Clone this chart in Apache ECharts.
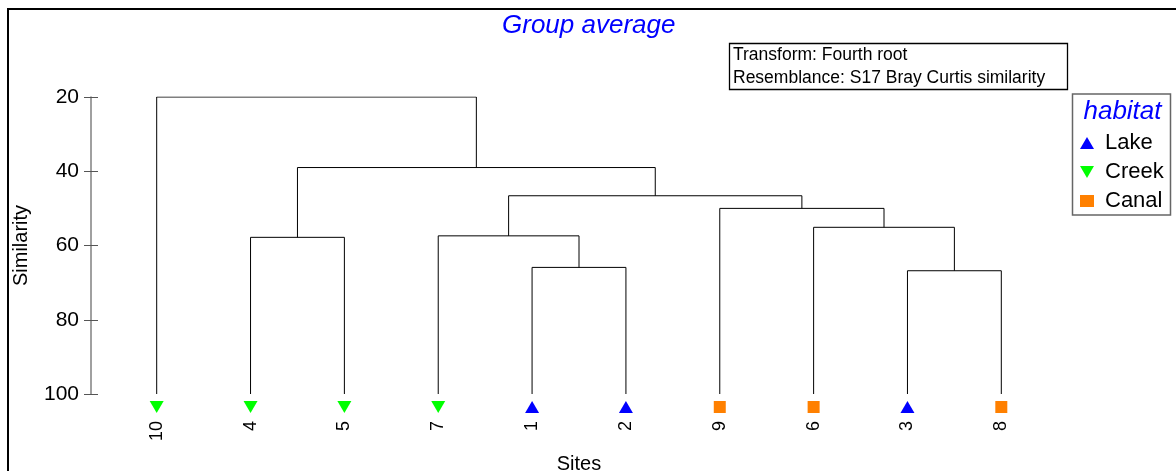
<!DOCTYPE html>
<html>
<head>
<meta charset="utf-8">
<script src="https://cdn.jsdelivr.net/npm/echarts@6/dist/echarts.min.js"></script>
<style>
html,body{margin:0;padding:0;background:#fff;}
#chart{width:1176px;height:471px;}
</style>
</head>
<body>
<div id="chart"></div>
<script>
// Sites in dendrogram leaf order (left to right)
const sites = ['10', '4', '5', '7', '1', '2', '9', '6', '3', '8'];
// Habitat of each site in that order
const habitats = ['Creek', 'Creek', 'Creek', 'Creek', 'Lake', 'Lake', 'Canal', 'Canal', 'Lake', 'Canal'];
// Merges: [left node, right node, similarity]; leaves are 0..9, merge k creates node 10+k
const merges = [
  [4, 5, 65.9],
  [3, 10, 57.4],
  [8, 9, 66.8],
  [7, 12, 55.1],
  [6, 13, 50.0],
  [11, 14, 46.6],
  [1, 2, 57.8],
  [16, 15, 39.0],
  [0, 17, 20.0]
];
const yTicks = [20, 40, 60, 80, 100];
const habitatNames = ['Lake', 'Creek', 'Canal'];
const habitatColors = { Lake: '#0000ff', Creek: '#00ff00', Canal: '#ff8000' };
const downTri = 'path://M0,0L10,0L5,8.6Z';
const habitatSymbols = { Lake: 'triangle', Creek: downTri, Canal: 'rect' };
const habitatSizes = { Lake: [14, 12], Creek: [14, 12], Canal: [12, 12] };

// Build dendrogram polylines from merges
const nodeX = sites.map((_, i) => i);
const nodeY = sites.map(() => 100);
const polylines = [];
merges.forEach(([a, b, h]) => {
  polylines.push({ coords: [[nodeX[a], nodeY[a]], [nodeX[a], h], [nodeX[b], h], [nodeX[b], nodeY[b]]] });
  nodeX.push((nodeX[a] + nodeX[b]) / 2);
  nodeY.push(h);
});

const scatterSeries = habitatNames.map(name => ({
  name: name,
  type: 'scatter',
  symbol: habitatSymbols[name],
  symbolSize: habitatSizes[name],
  symbolOffset: [0, 13],
  itemStyle: { color: habitatColors[name], opacity: 1 },
  clip: false,
  silent: true,
  data: sites.map((s, i) => habitats[i] === name ? [i, 100] : null).filter(d => d)
}));

const chart = echarts.init(document.getElementById('chart'), null, { renderer: 'canvas' });
const font = 'Liberation Sans, Arial, Helvetica, sans-serif';
chart.setOption({
  animation: false,
  backgroundColor: '#ffffff',
  textStyle: { fontFamily: font },
  title: {
    text: 'Group average',
    left: 502, top: 13,
    padding: 0,
    textStyle: { fontSize: 26, fontStyle: 'italic', fontWeight: 'normal', color: '#0000ff', fontFamily: font }
  },
  legend: {
    data: habitatNames.map(n => ({ name: n, icon: habitatSymbols[n] })),
    orient: 'vertical',
    left: 1080, top: 132,
    padding: 0,
    itemWidth: 14, itemHeight: 12,
    itemGap: 7,
    selectedMode: false,
    textStyle: { fontSize: 22, color: '#000', fontFamily: font, padding: [0, 0, 0, 6], lineHeight: 22 }
  },
  grid: { left: 91, top: 97, height: 297, width: 976, outerBoundsMode: 'none', containLabel: false },
  xAxis: {
    type: 'value', min: -0.7, max: 9.7,
    name: 'Sites', nameLocation: 'middle', nameGap: 60,
    nameTextStyle: { fontSize: 20, color: '#000', fontFamily: font },
    axisLine: { show: false, onZero: false }, axisTick: { show: false }, splitLine: { show: false },
    axisLabel: {
      customValues: sites.map((_, i) => i),
      formatter: v => sites[Math.round(v)],
      rotate: 90, margin: 27, fontSize: 18, color: '#000', fontFamily: font
    }
  },
  yAxis: [{
    type: 'value', inverse: true, min: 20, max: 100, interval: 20,
    name: 'Similarity', nameLocation: 'middle', nameGap: 60,
    nameTextStyle: { fontSize: 20, color: '#000', fontFamily: font },
    axisLine: { show: true, onZero: false, lineStyle: { color: '#808080', width: 1.5 } },
    axisTick: { show: true, length: 7, lineStyle: { color: '#555', width: 1 } },
    axisLabel: { fontSize: 21, color: '#000', margin: 12, fontFamily: font, formatter: v => yTicks.includes(v) ? String(v) : '' },
    splitLine: { show: false }
  }, {
    type: 'value', inverse: true, min: 20, max: 100, interval: 20, position: 'left',
    axisLine: { show: false, onZero: false },
    axisTick: { show: true, inside: true, length: 7, lineStyle: { color: '#555', width: 1 } },
    axisLabel: { show: false },
    splitLine: { show: false }
  }],
  series: [{
    type: 'lines',
    coordinateSystem: 'cartesian2d',
    polyline: true,
    silent: true,
    lineStyle: { color: '#000', width: 1, opacity: 1 },
    data: polylines
  }].concat(scatterSeries),
  graphic: [
    { type: 'rect', shape: { x: 8, y: 9, width: 1200, height: 500 }, style: { fill: 'none', stroke: '#000', lineWidth: 2 }, silent: true },
    { type: 'rect', shape: { x: 729.5, y: 43.5, width: 338, height: 46 }, style: { fill: 'none', stroke: '#000', lineWidth: 1.3 }, silent: true },
    { type: 'text', x: 733, y: 44, style: { text: 'Transform: Fourth root\nResemblance: S17 Bray Curtis similarity', fontSize: 17.5, lineHeight: 23, fill: '#000', fontFamily: font }, silent: true },
    { type: 'rect', shape: { x: 1072.5, y: 94, width: 98, height: 121 }, style: { fill: 'none', stroke: '#666', lineWidth: 1.5 }, silent: true },
    { type: 'text', x: 1122.5, y: 112, style: { text: 'habitat', fontSize: 26, fontStyle: 'italic', fill: '#0000ff', align: 'center', verticalAlign: 'middle', fontFamily: font }, silent: true }
  ]
});
</script>
</body>
</html>
